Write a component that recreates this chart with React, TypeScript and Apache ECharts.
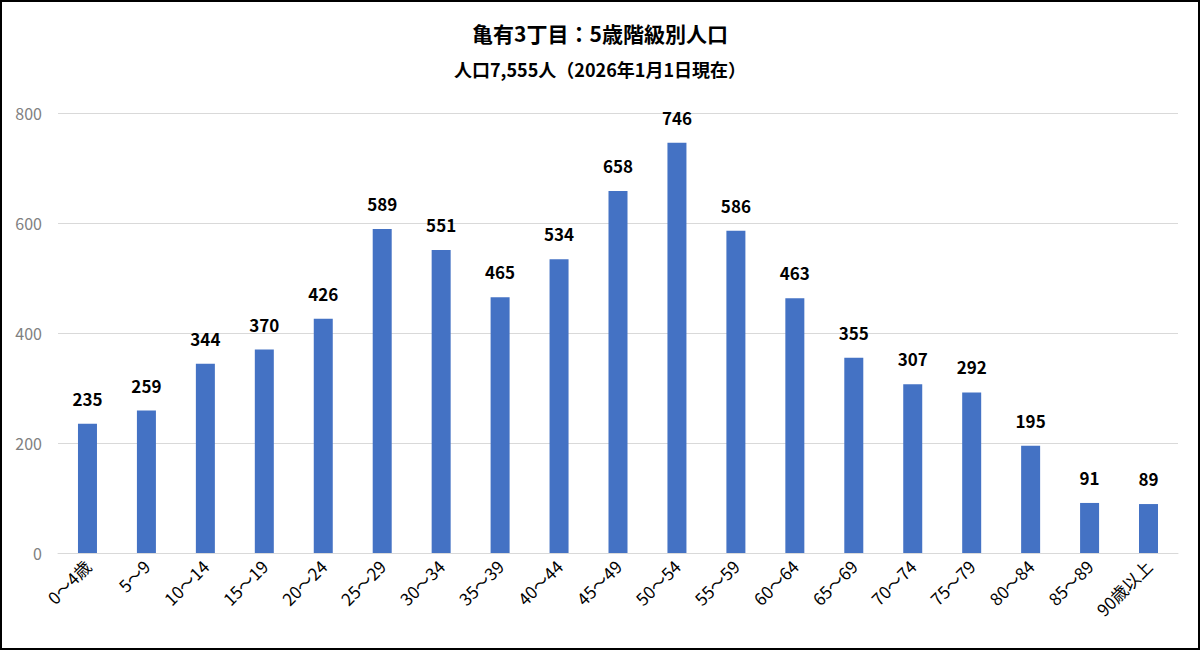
import React, { useEffect, useRef } from "react";
import * as echarts from "echarts";

const categories = ["0～4歳", "5～9", "10～14", "15～19", "20～24", "25～29", "30～34", "35～39", "40～44", "45～49", "50～54", "55～59", "60～64", "65～69", "70～74", "75～79", "80～84", "85～89", "90歳以上"];
const population = [235, 259, 344, 370, 426, 589, 551, 465, 534, 658, 746, 586, 463, 355, 307, 292, 195, 91, 89];
const titleText = "亀有3丁目：5歳階級別人口";
const subtitleText = "人口7,555人（2026年1月1日現在）";

export default function App() {
  const ref = useRef<HTMLDivElement>(null);
  useEffect(() => {
    document.body.style.margin = "0";
    const chart = echarts.init(ref.current!, null, { renderer: "svg" });
    const font = "'Noto Sans CJK JP', 'Noto Sans', sans-serif";
    chart.setOption({
      animation: false,
      backgroundColor: "#ffffff",
      title: {
        text: titleText,
        subtext: subtitleText,
        left: "center",
        top: 15,
        itemGap: 17,
        textStyle: { fontFamily: font, fontSize: 21, fontWeight: "bold", color: "#000" },
        subtextStyle: { fontFamily: font, fontSize: 18, fontWeight: "bold", color: "#000" },
      },
      grid: { left: 56, right: 20, top: 111, bottom: 95, containLabel: false },
      xAxis: {
        type: "category",
        data: categories,
        axisLine: { lineStyle: { color: "#d9d9d9", width: 1 } },
        axisTick: { show: false },
        axisLabel: {
          interval: 0,
          rotate: 45,
          margin: 10,
          color: "#000",
          fontFamily: font,
          fontSize: 17,
        },
      },
      yAxis: {
        type: "value",
        min: 0,
        max: 800,
        interval: 200,
        axisLine: { show: false },
        axisTick: { show: false },
        splitLine: { lineStyle: { color: "#d9d9d9", width: 1 } },
        axisLabel: { color: "#808080", fontFamily: font, fontSize: 16, margin: 16 },
      },
      series: [
        {
          type: "bar",
          data: population,
          barWidth: 19,
          itemStyle: { color: "#4472C4" },
          label: {
            show: true,
            position: "top",
            distance: 17,
            color: "#000",
            fontFamily: font,
            fontSize: 17,
            fontWeight: "bold",
          },
        },
      ],
    });
    return () => chart.dispose();
  }, []);
  return (
    <div
      ref={ref}
      style={{
        position: "fixed",
        left: 0,
        top: 0,
        width: 1200,
        height: 650,
        boxSizing: "border-box",
        border: "2px solid #000",
        background: "#fff",
      }}
    />
  );
}
